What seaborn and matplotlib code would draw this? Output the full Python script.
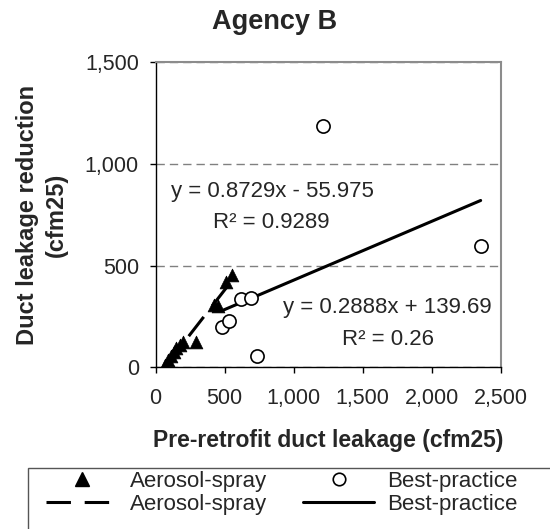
import numpy as np
import pandas as pd
import seaborn as sns
import matplotlib.pyplot as plt
from matplotlib.lines import Line2D
from matplotlib.patches import Rectangle
from matplotlib.ticker import FuncFormatter

# data
aerosol_x = [70, 90, 110, 130, 150, 175, 200, 290, 420, 450, 510, 555]
aerosol_y = [10, 35, 55, 75, 95, 110, 125, 125, 305, 300, 420, 455]
best_x = [480, 530, 620, 690, 735, 1215, 2355]
best_y = [200, 230, 335, 340, 55, 1185, 595]

# trendline coefficients (slope, intercept) shown on the chart
aerosol_fit = [0.8729, -55.975]
best_fit = [0.2888, 139.69]

x_ticks = [0, 500, 1000, 1500, 2000, 2500]
y_ticks = [0, 500, 1000, 1500]

sns.set_style('white')
plt.rcParams['font.family'] = ['Liberation Sans', 'DejaVu Sans']

fig = plt.figure(figsize=(5.5, 5.29), dpi=100)
ax = fig.add_axes([0.283, 0.3055, 0.6273, 0.5773])

df_a = pd.DataFrame({'x': aerosol_x, 'y': aerosol_y})
df_b = pd.DataFrame({'x': best_x, 'y': best_y})

# trend lines from the fitted equations
xa = np.array([min(aerosol_x), max(aerosol_x)])
xb = np.array([min(best_x), max(best_x)])
ax.plot(xa, aerosol_fit[0] * xa + aerosol_fit[1], color='black', lw=2.2,
        dashes=(8, 4.5), zorder=3)
ax.plot(xb, best_fit[0] * xb + best_fit[1], color='black', lw=2.2, zorder=3)

sns.scatterplot(data=df_a, x='x', y='y', marker='^', s=85, color='black',
                edgecolor='black', linewidth=0.5, ax=ax, zorder=4)
sns.scatterplot(data=df_b, x='x', y='y', marker='o', s=90, facecolor='white',
                edgecolor='black', linewidth=1.2, ax=ax, zorder=4)

ax.set_xlim(0, 2500)
ax.set_ylim(0, 1500)
ax.set_xticks(x_ticks)
ax.set_yticks(y_ticks)
fmt = FuncFormatter(lambda v, p: f'{int(v):,}')
ax.xaxis.set_major_formatter(fmt)
ax.yaxis.set_major_formatter(fmt)
ax.tick_params(axis='both', direction='out', length=4, width=1, color='black',
               labelsize=15.5, left=True, bottom=True)
ax.tick_params(axis='x', pad=11)
ax.tick_params(axis='y', pad=8)

ax.grid(axis='y', color='#808080', linestyle=(0, (6, 3.6)), lw=1)
ax.grid(axis='x', visible=False)
for s in ['left', 'bottom']:
    ax.spines[s].set_color('black')
    ax.spines[s].set_linewidth(1)
for s in ['top', 'right']:
    ax.spines[s].set_color('#8c8c8c')
    ax.spines[s].set_linewidth(1.5)

ax.set_xlabel('Pre-retrofit duct leakage (cfm25)', fontsize=16.5,
              fontweight='bold', labelpad=14)
ax.set_ylabel('Duct leakage reduction\n(cfm25)', fontsize=17,
              fontweight='bold', labelpad=12, linespacing=1.35)
fig.suptitle('Agency B', x=0.5, y=0.958, va='center', fontsize=19.5,
             fontweight='bold')

# equation labels
ax.text(843, 864, 'y = 0.8729x - 55.975', ha='center', va='center', fontsize=16)
ax.text(841, 710, 'R² = 0.9289', ha='center', va='center', fontsize=16)
ax.text(1680, 292, 'y = 0.2888x + 139.69', ha='center', va='center', fontsize=16)
ax.text(1683, 135, 'R² = 0.26', ha='center', va='center', fontsize=16)

# legend
handles = [
    Line2D([], [], marker='^', color='black', ls='none', markersize=10),
    Line2D([], [], color='black', lw=2.2, dashes=(8, 4.5)),
    Line2D([], [], marker='o', markerfacecolor='white', markeredgecolor='black',
           ls='none', markersize=9, markeredgewidth=1.2),
    Line2D([], [], color='black', lw=2.2),
]
labels = ['Aerosol-spray', 'Aerosol-spray', 'Best-practice', 'Best-practice']
fig.legend(handles, labels, ncol=2, frameon=False, loc='upper left',
           bbox_to_anchor=(46 / 550, 1 - 471 / 529),
           bbox_transform=fig.transFigure, borderaxespad=0, borderpad=0,
           handlelength=3.2, handletextpad=0.6, columnspacing=1.6,
           labelspacing=0.1, fontsize=16)
fig.patches.append(Rectangle((28 / 550, -0.1), 1.0, 0.1 + (1 - 468 / 529),
                             transform=fig.transFigure, fill=False,
                             edgecolor='#555555', lw=1))

fig.savefig('out.png', dpi=100)
